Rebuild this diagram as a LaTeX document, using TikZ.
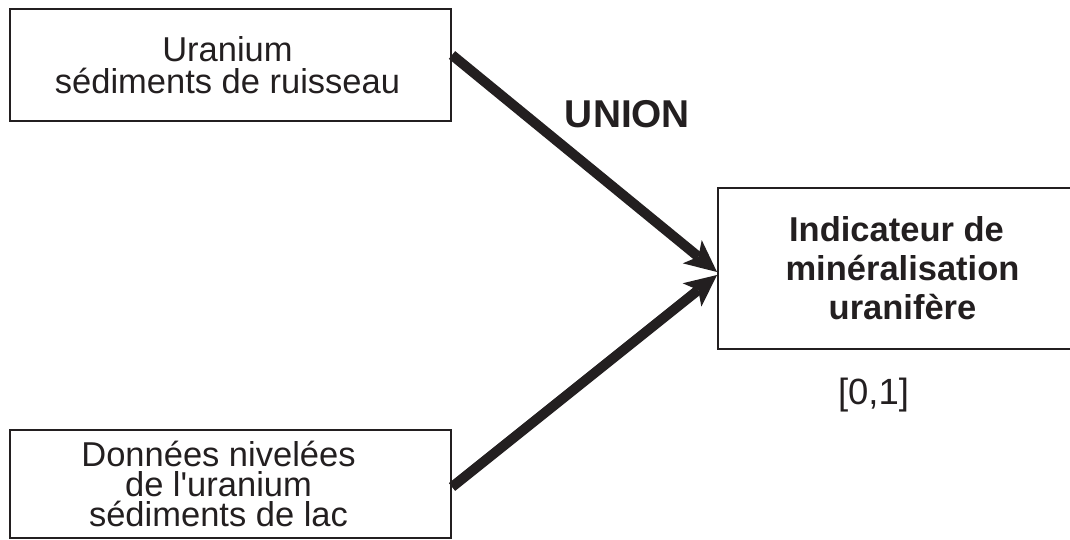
\documentclass[tikz,border=0pt]{standalone}
\usepackage{fontspec}
\setmainfont{Liberation Sans}[Ligatures=TeXOff]
\usetikzlibrary{arrows.meta}
\definecolor{ink}{HTML}{231F20}
\tikzset{
  box/.style={draw=ink, line width=2pt, inner sep=0pt, align=center, text=ink},
  flow/.style={draw=ink, line width=10pt, -{Stealth[length=32pt,width=30pt,inset=8pt,line width=0pt]}},
  lbl/.style={text=ink, inner sep=0pt, anchor=base},
}
\begin{document}
\begin{tikzpicture}[x=1pt,y=-1pt]
\useasboundingbox (0,0) rectangle (1070,540);
\node[box, minimum width=441pt, minimum height=112pt, font=\fontsize{34.5}{32}\selectfont]
  (src1) at (230.5,65) {Uranium\kern6pt\\sédiments de ruisseau\kern6pt};
\node[box, minimum width=441pt, minimum height=108pt, font=\fontsize{34.5}{30}\selectfont]
  (src2) at (230.5,484) {Données nivelées\kern24pt\\de l'uranium\kern24pt\\sédiments de lac\kern24pt};
\node[box, minimum width=369pt, minimum height=161pt, font=\fontsize{34.5}{39}\selectfont\bfseries]
  (res) at (902.5,268.5) {Indicateur de\kern12pt\\minéralisation\\uranifère};
\draw[flow] ([yshift=10pt]src1.east) -- ([yshift=-3.5pt]res.west);
\draw[flow] ([yshift=-3pt]src2.east) -- ([yshift=-6.5pt]res.west);
\node[lbl, font=\fontsize{38.8}{40}\selectfont\bfseries] (union) at (627.5,128) {UNION};
\node[lbl, font=\fontsize{36.5}{40}\selectfont] (range) at (873.5,404) {[0,1]};
\end{tikzpicture}
\end{document}
